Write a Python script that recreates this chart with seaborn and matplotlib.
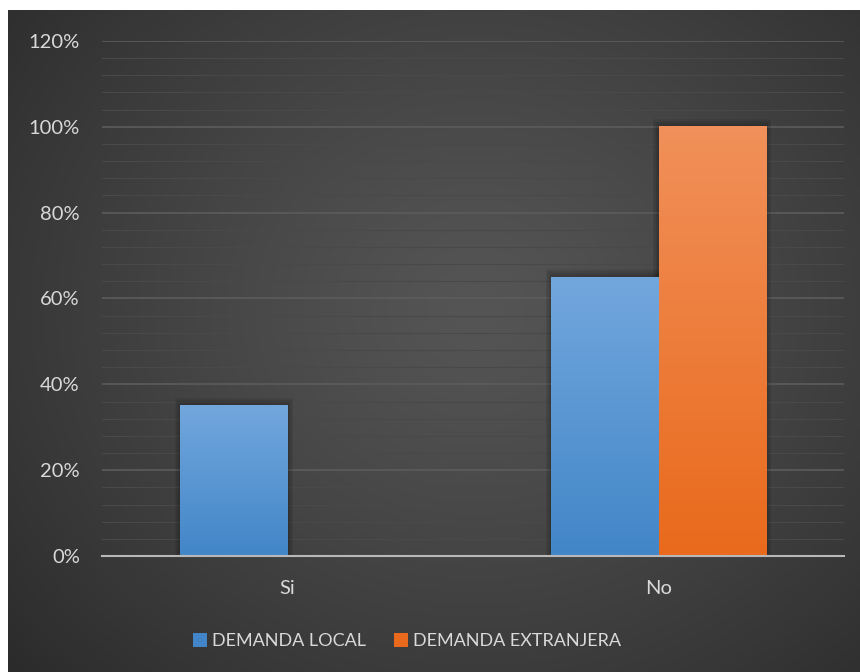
import matplotlib
matplotlib.use("Agg")
import matplotlib.pyplot as plt
from matplotlib.patches import Patch, Rectangle
from matplotlib.colors import to_rgb
import seaborn as sns
import numpy as np
import pandas as pd

categories = ["Si", "No"]
series = ["DEMANDA LOCAL", "DEMANDA EXTRANJERA"]
local = [0.35, 0.65]
extranjera = [0.0, 1.0]
yticks = [0, 0.2, 0.4, 0.6, 0.8, 1.0, 1.2]
ytick_labels = ["0%", "20%", "40%", "60%", "80%", "100%", "120%"]

df = pd.DataFrame({
    "cat": categories * 2,
    "serie": [series[0]] * 2 + [series[1]] * 2,
    "valor": local + extranjera,
})

# top / bottom colours of the bar gradients
grad_colors = {
    series[0]: ("#72a7dd", "#4286c8"),
    series[1]: ("#f1905a", "#e96a1c"),
}
text_color = "#d9d9d9"

fig = plt.figure(figsize=(8.6, 6.72), dpi=100)
fig.patch.set_facecolor("white")

# dark chart area with radial gradient
bg = fig.add_axes([8 / 860, 0, 852 / 860, 662 / 672])
bg.set_axis_off()
yy, xx = np.mgrid[0:1:300j, 0:1:400j]
r = np.sqrt(((xx - 0.55) / 0.75) ** 2 + ((yy - 0.55) / 0.85) ** 2)
r = np.clip(r, 0, 1)
c0, c1 = np.array(to_rgb("#555555")), np.array(to_rgb("#2a2a2a"))
img = c0 + (c1 - c0) * r[..., None] ** 1.2
bg.imshow(img, extent=[0, 1, 0, 1], aspect="auto", origin="lower")
bg.set_xlim(0, 1)
bg.set_ylim(0, 1)

ax = fig.add_axes([102 / 860, 116 / 672, 742 / 860, 515 / 672])
ax.patch.set_alpha(0)

sns.barplot(data=df, x="cat", y="valor", hue="serie", order=categories,
            hue_order=series, palette=[grad_colors[s][1] for s in series],
            width=0.577, ax=ax, legend=False, zorder=3)

ax.set_ylim(0, 1.2)
ax.set_xlim(-0.5, 1.5)
xlim, ylim = ax.get_xlim(), ax.get_ylim()

# gradient fill + soft shadow for each bar
for i, patch in enumerate(list(ax.patches)):
    x, y, w, h = patch.get_x(), patch.get_y(), patch.get_width(), patch.get_height()
    if h <= 0:
        continue
    s = series[0] if i < len(categories) else series[1]
    top, bot = np.array(to_rgb(grad_colors[s][0])), np.array(to_rgb(grad_colors[s][1]))
    t = np.linspace(0, 1, 100)[:, None, None]
    g = bot + (top - bot) * t
    g = np.repeat(g, 2, axis=1)
    for k in range(4):
        pad = 0.006 * (k + 1)
        ax.add_patch(Rectangle((x - pad * 0.6, y), w + pad * 1.2, h + pad * 0.8,
                               facecolor="black", alpha=0.07, lw=0, zorder=2))
    ax.imshow(g, extent=[x, x + w, y, y + h], aspect="auto", origin="lower", zorder=4)
    patch.set_visible(False)

ax.set_xlim(xlim)
ax.set_ylim(ylim)

ax.set_yticks(yticks)
ax.set_yticklabels(ytick_labels)
ax.set_yticks(np.arange(0, 1.21, 0.04), minor=True)
ax.yaxis.grid(True, which="major", color="#5c5c5c", lw=1.2, zorder=0)
ax.yaxis.grid(True, which="minor", color="#494949", lw=0.8, zorder=0)
ax.xaxis.grid(False)
ax.set_axisbelow(True)
for sp in ["top", "right", "left"]:
    ax.spines[sp].set_visible(False)
ax.spines["bottom"].set_color("#b8b8b8")
ax.spines["bottom"].set_linewidth(1.5)
ax.spines["bottom"].set_zorder(5)
ax.tick_params(axis="both", which="both", length=0, colors=text_color, labelsize=14.5)
ax.tick_params(axis="y", pad=16)
ax.tick_params(axis="x", pad=17)
for lab in ax.get_xticklabels() + ax.get_yticklabels():
    lab.set_fontfamily("Lato")
ax.set_xlabel("")
ax.set_ylabel("")

handles = [Patch(facecolor=grad_colors[s][1], edgecolor="none") for s in series]
leg = fig.legend(handles, series, loc="center", bbox_to_anchor=(407 / 860, 1 - 641 / 672),
                 ncol=2, frameon=False, handlelength=0.8, handleheight=0.8,
                 handletextpad=0.3, columnspacing=1.5,
                 prop={"family": "Lato", "size": 13})
for txt in leg.get_texts():
    txt.set_color(text_color)

fig.savefig("out.png", dpi=100)
